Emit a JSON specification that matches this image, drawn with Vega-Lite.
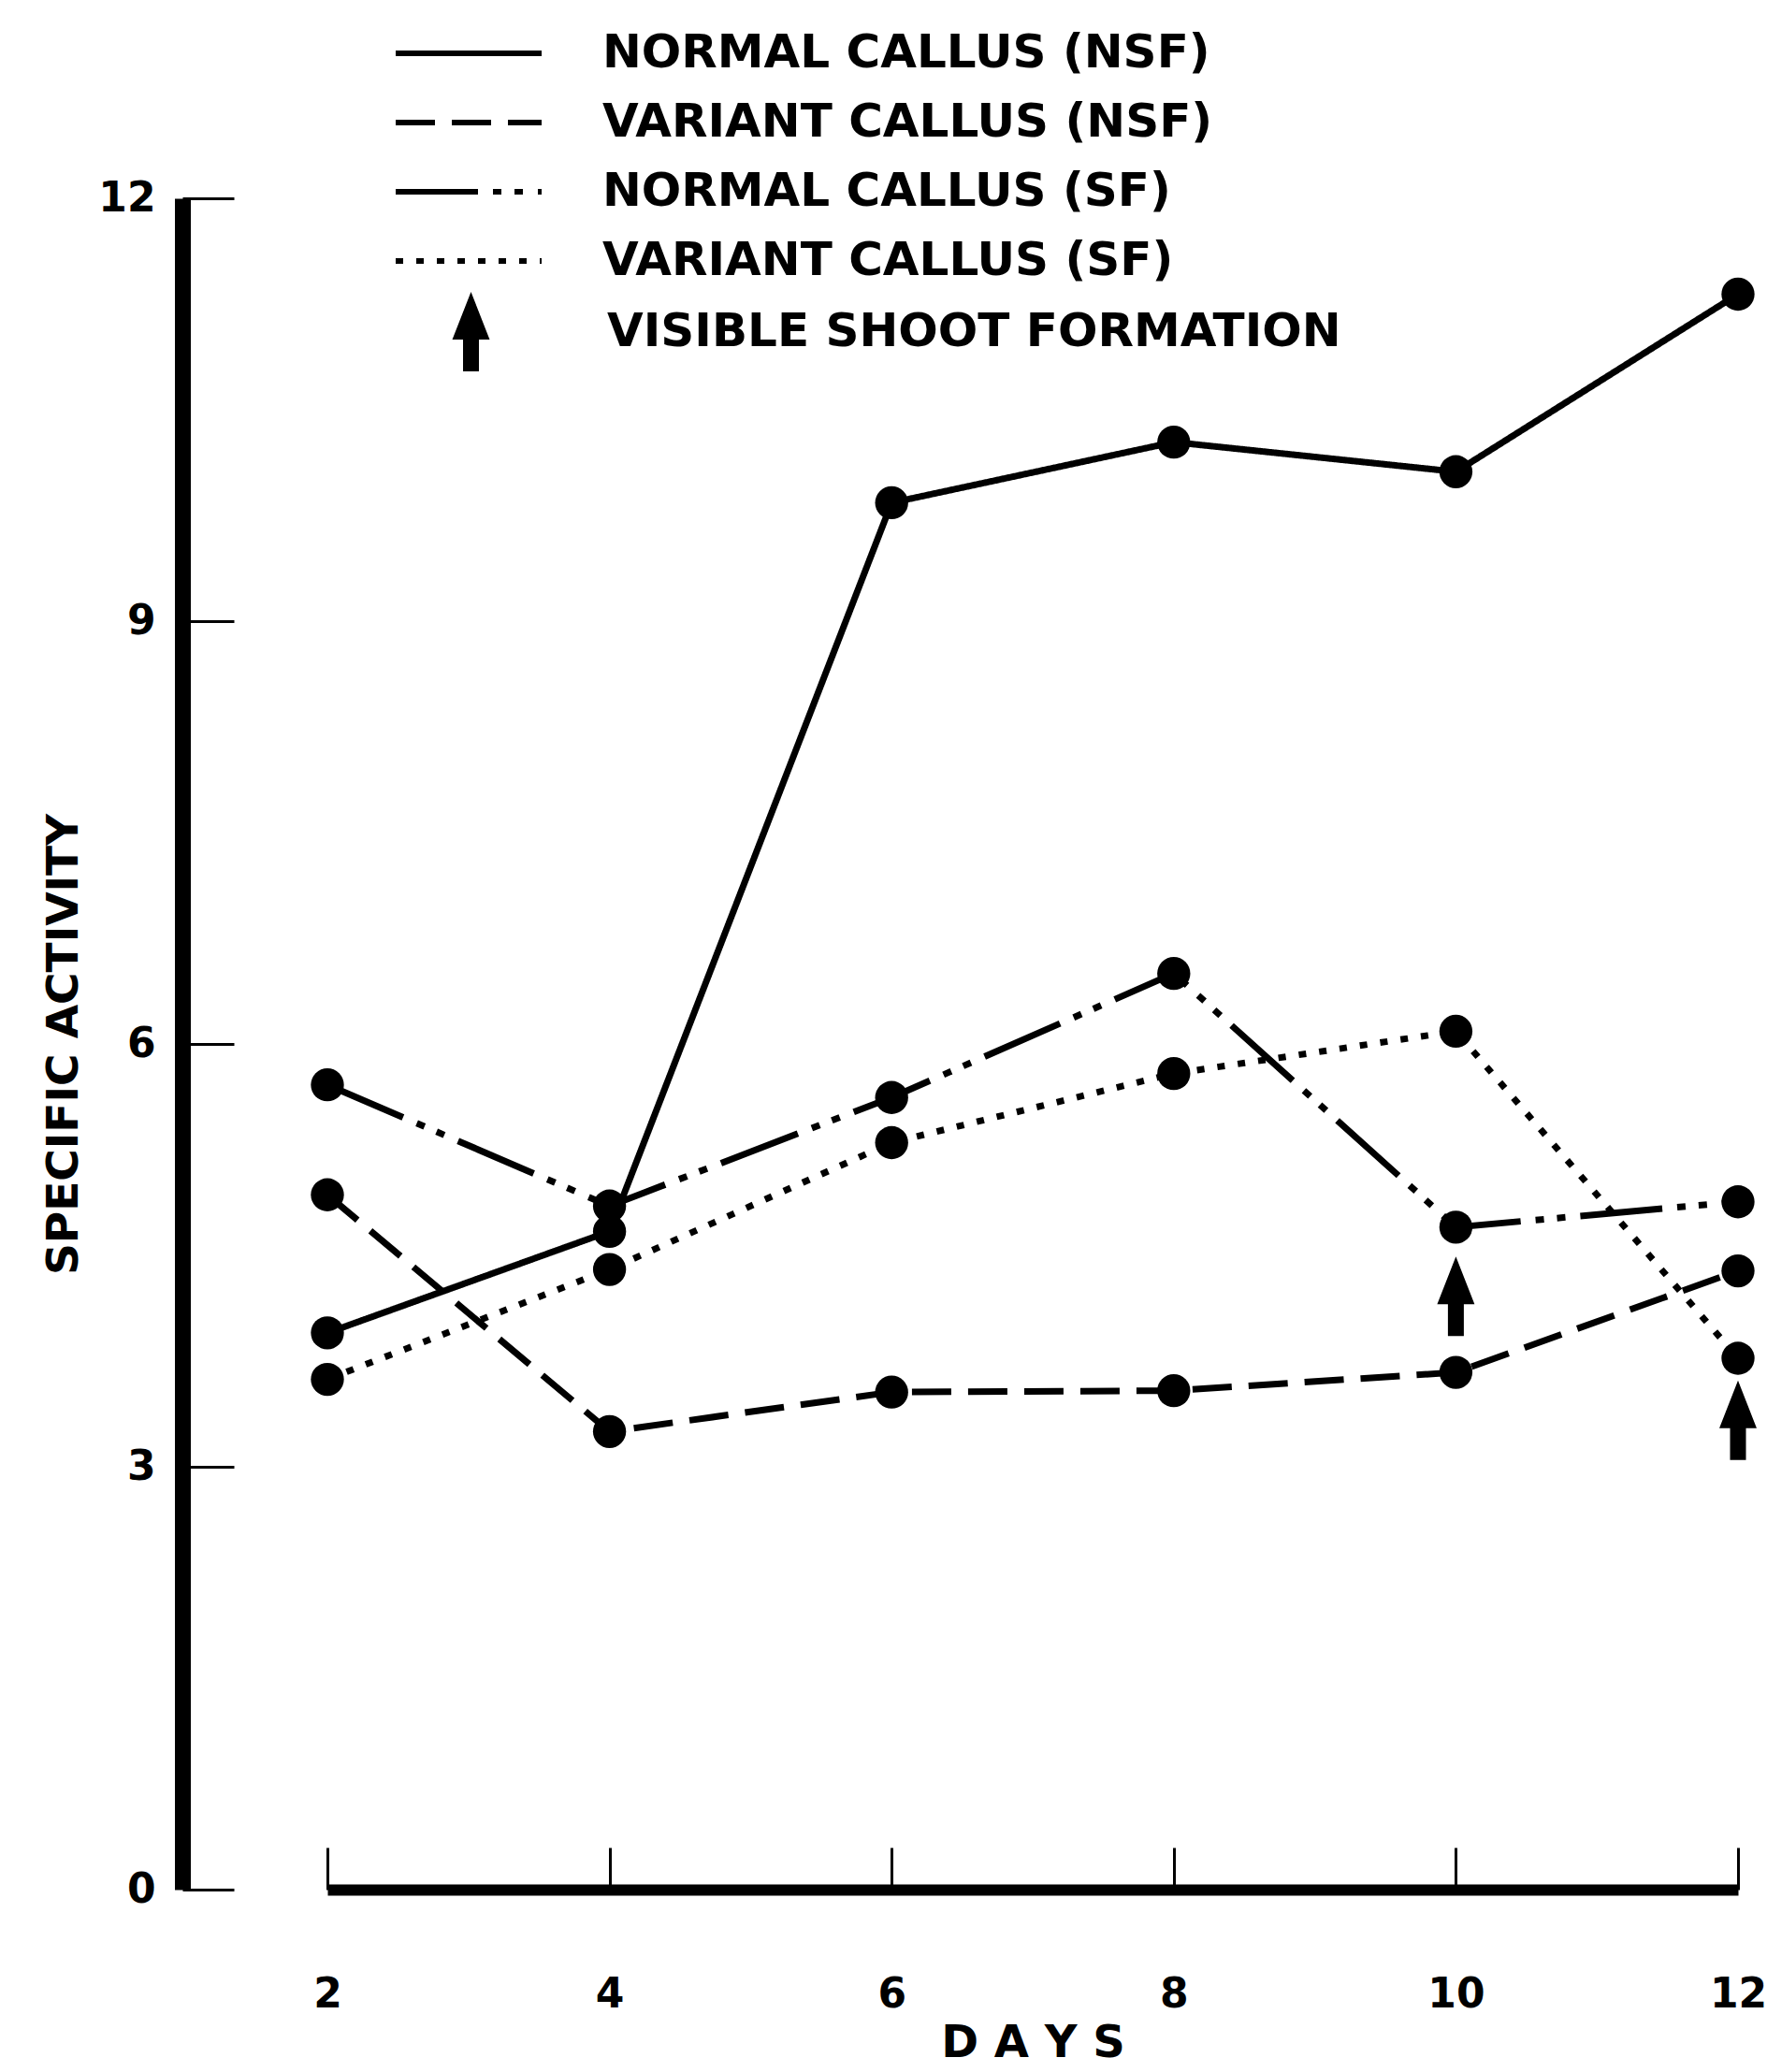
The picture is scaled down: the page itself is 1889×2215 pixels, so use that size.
{
  "$schema": "https://vega.github.io/schema/vega-lite/v6.json",
  "autosize": {"type": "none"},
  "width": 1508,
  "height": 1808,
  "padding": {"left": 350, "top": 212, "right": 31, "bottom": 195},
  "background": "white",
  "config": {
    "view": {"stroke": null},
    "font": "DejaVu Sans"
  },
  "datasets": {
    "series": [
      {"series": "NORMAL CALLUS (NSF)", "day": 2, "value": 3.95},
      {"series": "NORMAL CALLUS (NSF)", "day": 4, "value": 4.67},
      {"series": "NORMAL CALLUS (NSF)", "day": 6, "value": 9.84},
      {"series": "NORMAL CALLUS (NSF)", "day": 8, "value": 10.27},
      {"series": "NORMAL CALLUS (NSF)", "day": 10, "value": 10.06},
      {"series": "NORMAL CALLUS (NSF)", "day": 12, "value": 11.32},
      {"series": "VARIANT CALLUS (NSF)", "day": 2, "value": 4.93},
      {"series": "VARIANT CALLUS (NSF)", "day": 4, "value": 3.25},
      {"series": "VARIANT CALLUS (NSF)", "day": 6, "value": 3.53},
      {"series": "VARIANT CALLUS (NSF)", "day": 8, "value": 3.54},
      {"series": "VARIANT CALLUS (NSF)", "day": 10, "value": 3.67},
      {"series": "VARIANT CALLUS (NSF)", "day": 12, "value": 4.39},
      {"series": "NORMAL CALLUS (SF)", "day": 2, "value": 5.71},
      {"series": "NORMAL CALLUS (SF)", "day": 4, "value": 4.85},
      {"series": "NORMAL CALLUS (SF)", "day": 6, "value": 5.62},
      {"series": "NORMAL CALLUS (SF)", "day": 8, "value": 6.5},
      {"series": "NORMAL CALLUS (SF)", "day": 10, "value": 4.7},
      {"series": "NORMAL CALLUS (SF)", "day": 12, "value": 4.88},
      {"series": "VARIANT CALLUS (SF)", "day": 2, "value": 3.62},
      {"series": "VARIANT CALLUS (SF)", "day": 4, "value": 4.4},
      {"series": "VARIANT CALLUS (SF)", "day": 6, "value": 5.3},
      {"series": "VARIANT CALLUS (SF)", "day": 8, "value": 5.79},
      {"series": "VARIANT CALLUS (SF)", "day": 10, "value": 6.09},
      {"series": "VARIANT CALLUS (SF)", "day": 12, "value": 3.77}
    ],
    "arrows": [
      {"day": 10, "value": 4.21},
      {"day": 12, "value": 3.33}
    ]
  },
  "encoding": {
    "x": {
      "field": "day", "type": "quantitative",
      "scale": {"domain": [2, 12], "nice": false, "zero": false},
      "axis": {
        "values": [2, 4, 6, 8, 10, 12],
        "tickSize": -45, "tickWidth": 3, "tickColor": "black",
        "domainWidth": 12, "domainColor": "black",
        "labelFont": "DejaVu Sans", "labelFontWeight": "bold", "labelFontSize": 44, "labelColor": "black",
        "labelPadding": 135, "labelFlush": false,
        "grid": false,
        "title": "D A Y S", "titleFont": "DejaVu Sans", "titleFontWeight": "bold", "titleFontSize": 48, "titleColor": "black",
        "titleY": 178, "titleBaseline": "alphabetic"
      }
    },
    "y": {
      "field": "value", "type": "quantitative",
      "scale": {"domain": [0, 12], "nice": false},
      "axis": {
        "values": [0, 3, 6, 9, 12],
        "offset": 155,
        "tickSize": -55, "tickWidth": 3, "tickColor": "black",
        "domainWidth": 17, "domainColor": "black",
        "labelFont": "DejaVu Sans", "labelFontWeight": "bold", "labelFontSize": 44, "labelColor": "black",
        "labelPadding": 84, "labelFlush": false,
        "grid": false,
        "title": "SPECIFIC  ACTIVITY", "titleFont": "DejaVu Sans", "titleFontWeight": "bold", "titleFontSize": 47, "titleColor": "black",
        "titleX": -127, "titleY": 904, "titleAngle": 270, "titleAlign": "center", "titleBaseline": "middle"
      }
    }
  },
  "layer": [
    {
      "data": {"name": "series"},
      "mark": {"type": "line", "color": "black", "strokeWidth": 7},
      "encoding": {
        "strokeDash": {
          "field": "series", "type": "nominal",
          "scale": {
            "domain": ["NORMAL CALLUS (NSF)", "VARIANT CALLUS (NSF)", "NORMAL CALLUS (SF)", "VARIANT CALLUS (SF)"],
            "range": [[1, 0], [42, 18], [88, 16, 9, 14, 9, 16], [8, 14]]
          },
          "legend": {
            "orient": "none", "legendX": 126, "legendY": -180,
            "title": null, "padding": 0,
            "symbolType": "M-5.2,0L5.2,0", "symbolSize": 900,
            "symbolStrokeColor": "black", "symbolStrokeWidth": 6, "symbolFillColor": "transparent",
            "labelFont": "DejaVu Sans", "labelFontWeight": "bold", "labelFontSize": 50, "labelColor": "black",
            "labelOffset": 118, "labelLimit": 1200, "rowPadding": 24
          }
        }
      }
    },
    {
      "data": {"name": "series"},
      "mark": {"type": "point", "filled": true, "color": "black", "size": 1250, "opacity": 1, "shape": "circle"}
    },
    {
      "data": {"name": "arrows"},
      "mark": {"type": "point", "filled": true, "color": "black", "size": 7225, "opacity": 1},
      "encoding": {
        "shape": {
          "datum": "VISIBLE SHOOT FORMATION",
          "scale": {"range": ["M0,-1L0.47,0.2L0.2,0.2L0.2,1L-0.2,1L-0.2,0.2L-0.47,0.2Z"]},
          "legend": {
            "orient": "none", "legendX": 111, "legendY": 100,
            "title": null, "padding": 0,
            "symbolSize": 7225, "symbolFillColor": "black", "symbolStrokeColor": "black", "symbolStrokeWidth": 0, "symbolOpacity": 1,
            "labelFont": "DejaVu Sans", "labelFontWeight": "bold", "labelFontSize": 50, "labelColor": "black",
            "labelOffset": 103, "labelLimit": 1200
          }
        }
      }
    }
  ]
}
